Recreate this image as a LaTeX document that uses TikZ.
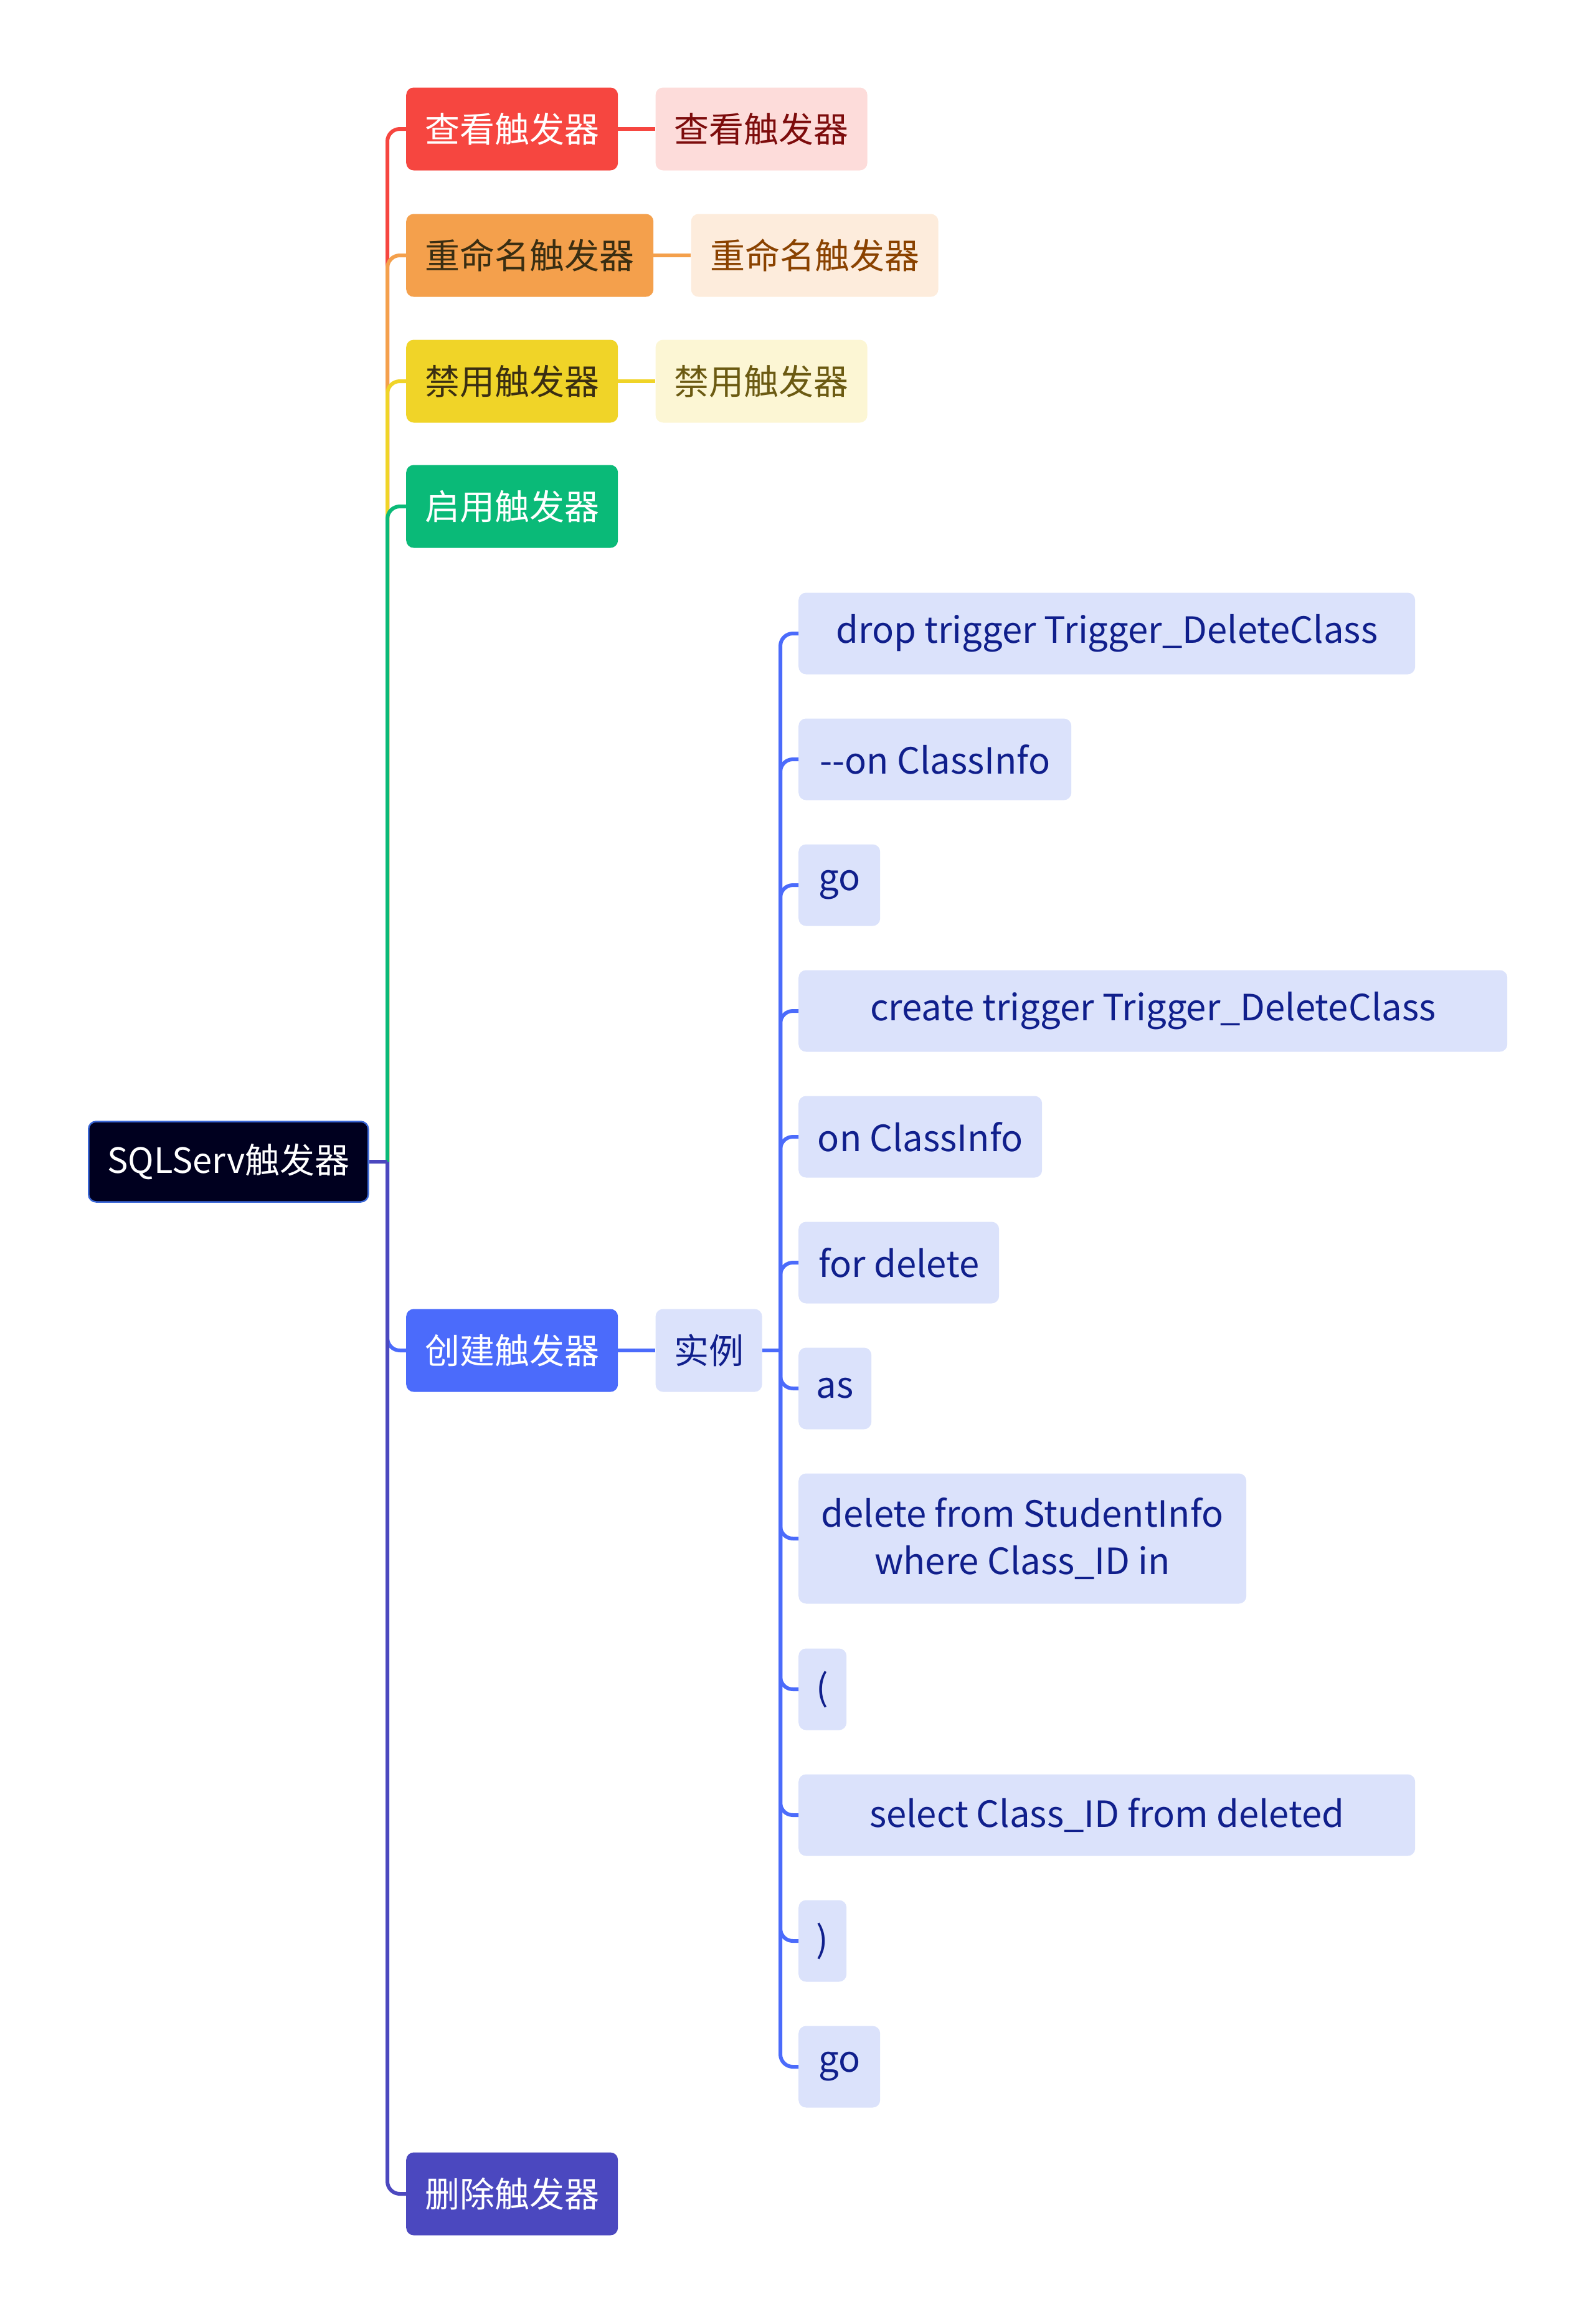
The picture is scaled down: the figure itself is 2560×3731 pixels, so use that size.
\documentclass[tikz,border=0pt]{standalone}
\usepackage{fontspec}
\setmainfont{Noto Sans CJK SC}
\usetikzlibrary{positioning}

\definecolor{rootfill}{HTML}{00001F}
\definecolor{rootline}{HTML}{3A66D6}
\definecolor{cred}{HTML}{F64640}
\definecolor{corange}{HTML}{F4A04C}
\definecolor{cyellow}{HTML}{F0D428}
\definecolor{cgreen}{HTML}{0ABA78}
\definecolor{cblue}{HTML}{4B6BFB}
\definecolor{cindigo}{HTML}{4B48BF}
\definecolor{redlight}{HTML}{FDDCDA}
\definecolor{redtext}{HTML}{7D0C0C}
\definecolor{orangelight}{HTML}{FDECDC}
\definecolor{orangetext}{HTML}{8A4200}
\definecolor{yellowlight}{HTML}{FCF6D4}
\definecolor{yellowtext}{HTML}{6B5A12}
\definecolor{darktext}{HTML}{3A2E12}
\definecolor{codefill}{HTML}{DBE2FB}
\definecolor{codetext}{HTML}{101F8C}

\begin{document}
\begin{tikzpicture}[
    x=1pt, y=-1pt,
    every node/.style={font=\fontsize{56}{76}\selectfont, inner sep=0pt},
    root/.style={
      draw=rootline, line width=2.5pt, fill=rootfill, text=white,
      rounded corners=12pt, align=center,
      minimum width=449pt, minimum height=129pt, anchor=west
    },
    topic/.style={
      rounded corners=12pt, align=center, text=white,
      minimum width=340pt, minimum height=133pt, anchor=west
    },
    leaf/.style={
      rounded corners=12pt, align=center,
      minimum width=340pt, minimum height=133pt
    },
    code/.style={
      fill=codefill, text=codetext,
      font=\fontsize{58}{76}\selectfont,
      rounded corners=12pt, align=center,
      minimum height=131pt, anchor=west
    },
    link/.style={line width=6pt},
    branch/.style={line width=6pt, rounded corners=20pt}
  ]

    \useasboundingbox (0,0) rectangle (2560,3731);

    % root and first level
    \node[root] (sql) at (141,1865) {SQLServ触发器};
    \node[topic, fill=cred] (view) at (652,207) {查看触发器};
    \node[topic, fill=corange, text=darktext, minimum width=397pt] (rename) at (652,410) {重命名触发器};
    \node[topic, fill=cyellow, text=darktext] (disable) at (652,612) {禁用触发器};
    \node[topic, fill=cgreen] (enable) at (652,813) {启用触发器};
    \node[topic, fill=cblue] (create) at (652,2168) {创建触发器};
    \node[topic, fill=cindigo] (remove) at (652,3522) {删除触发器};

    % second level
    \node[leaf, fill=redlight, text=redtext, right=60pt of view] (viewx) {查看触发器};
    \node[leaf, fill=orangelight, text=orangetext, minimum width=397pt, right=60pt of rename] (renamex) {重命名触发器};
    \node[leaf, fill=yellowlight, text=yellowtext, right=60pt of disable] (disablex) {禁用触发器};
    \node[leaf, fill=codefill, text=codetext, minimum width=171pt, right=60pt of create] (example) {实例};

    % code lines
    \node[code, minimum width=990pt] (c1) at (1282,1017) {drop trigger Trigger\_DeleteClass};
    \node[code, minimum width=438pt] (c2) at (1282,1219) {{-}{-}on ClassInfo};
    \node[code, minimum width=131pt] (c3) at (1282,1421) {go};
    \node[code, minimum width=1138pt] (c4) at (1282,1623) {create trigger Trigger\_DeleteClass};
    \node[code, minimum width=391pt] (c5) at (1282,1825) {on ClassInfo};
    \node[code, minimum width=322pt] (c6) at (1282,2027) {for delete};
    \node[code, minimum width=117pt] (c7) at (1282,2229) {as};
    \node[code, minimum width=719pt, minimum height=209pt] (c8) at (1282,2470)
      {delete from StudentInfo\\where Class\_ID in};
    \node[code, minimum width=77pt] (c9) at (1282,2712) {(};
    \node[code, minimum width=990pt] (c10) at (1282,2914) {select Class\_ID from deleted};
    \node[code, minimum width=77pt] (c11) at (1282,3116) {)};
    \node[code, minimum width=131pt] (c12) at (1282,3318) {go};

    \coordinate (hub) at (622,1865);
    \coordinate (exhub) at (1253,2168);

    % trunk from the root
    \draw[branch, cred] (hub) |- (view.west);
    \draw[branch, corange] (hub) |- (rename.west);
    \draw[branch, cyellow] (hub) |- (disable.west);
    \draw[branch, cgreen] (hub) |- (enable.west);
    \draw[branch, cblue] (hub) |- (create.west);
    \draw[branch, cindigo] (hub) |- (remove.west);
    \draw[link, cindigo] (sql.east) -- (hub);

    \draw[link, cred] (view) -- (viewx);
    \draw[link, corange] (rename) -- (renamex);
    \draw[link, cyellow] (disable) -- (disablex);
    \draw[link, cblue] (create) -- (example);

    % trunk of the example
    \draw[link, cblue] (example.east) -- (exhub);
    \draw[branch, cblue] (exhub) |- (c1.west);
    \draw[branch, cblue] (exhub) |- (c2.west);
    \draw[branch, cblue] (exhub) |- (c3.west);
    \draw[branch, cblue] (exhub) |- (c4.west);
    \draw[branch, cblue] (exhub) |- (c5.west);
    \draw[branch, cblue] (exhub) |- (c6.west);
    \draw[branch, cblue] (exhub) |- (c7.west);
    \draw[branch, cblue] (exhub) |- (c8.west);
    \draw[branch, cblue] (exhub) |- (c9.west);
    \draw[branch, cblue] (exhub) |- (c10.west);
    \draw[branch, cblue] (exhub) |- (c11.west);
    \draw[branch, cblue] (exhub) |- (c12.west);

  \end{tikzpicture}
\end{document}
